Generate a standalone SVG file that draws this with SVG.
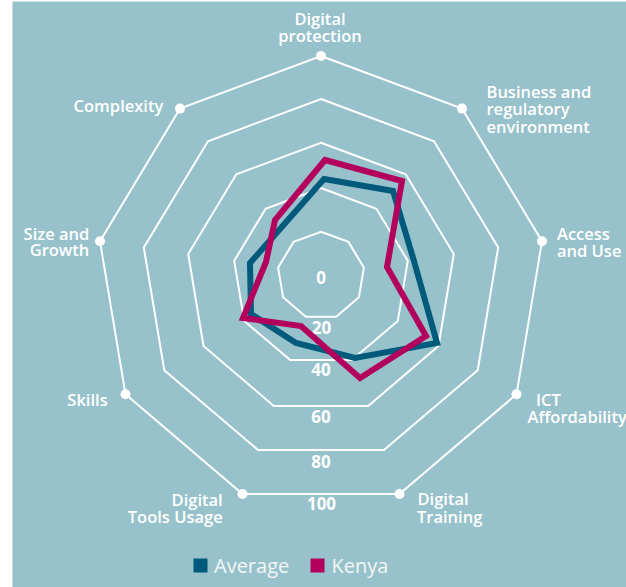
<svg xmlns="http://www.w3.org/2000/svg" width="626" height="587" viewBox="0 0 626 587">
<style>
.ring{fill:none;stroke:#ffffff;stroke-width:2;stroke-linejoin:miter}
.dot{fill:#ffffff}
.lbl{font-family:"Open Sans","Noto Sans",sans-serif;font-weight:600;font-size:16.5px;fill:#ffffff}
.num{font-family:"Open Sans","Noto Sans",sans-serif;font-weight:700;font-size:17px;fill:#ffffff;text-anchor:middle}
.leg{font-family:"Open Sans","Noto Sans",sans-serif;font-weight:400;font-size:20px;fill:#f2f6f7}
.data{fill:none;stroke-width:6;stroke-linejoin:miter;stroke-miterlimit:10}
</style>
<rect x="12.5" y="1.5" width="613.5" height="585.5" fill="#98c2cb"/>
<g id="grid">
<polygon class="ring" points="321,56 462,108.6 542,241.3 516.5,394.3 399.5,494 242.5,494 125.5,394.3 100,241.3 180,108.6"/>
<polygon class="ring" points="321,99 434,141.2 498.2,247.5 477.7,370.2 383.9,450.1 258.1,450.1 164.3,370.2 143.8,247.5 208,141.2"/>
<polygon class="ring" points="321,142.7 405.7,174.3 453.8,254.1 438.5,346 368.2,405.9 273.8,405.9 203.5,346 188.2,254.1 236.3,174.3"/>
<polygon class="ring" points="321,188 376.4,208.7 407.8,260.8 397.8,320.9 351.8,360.1 290.2,360.1 244.2,320.9 234.2,260.8 265.6,208.7"/>
<polygon class="ring" points="321,231.7 348.4,241.9 363.9,267.6 358.9,297.3 336.2,316.7 305.8,316.7 283.1,297.3 278.1,267.6 293.6,241.9"/>
</g>
<g id="scale">
<text class="num" x="321" y="284">0</text>
<text class="num" x="321.5" y="333.5">20</text>
<text class="num" x="321" y="376">40</text>
<text class="num" x="321" y="422.5">60</text>
<text class="num" x="321" y="467.5">80</text>
<text class="num" x="321.5" y="510">100</text>
</g>
<g id="series">
<polygon id="average" class="data" stroke="#005a7b" points="324,179 393,191 414,261 437,343 355,358 296,343 251,314 250,263 280,229"/>
<polygon id="kenya" class="data" stroke="#b3005c" points="325,160 402,181 387,267 426,336 360,378 301,326 243,318 266,262 275,220"/>
</g>
<g id="axis-digital-protection">
<circle class="dot" cx="321" cy="56" r="5"/>
<text class="lbl" x="320" y="25" text-anchor="middle">Digital</text>
<text class="lbl" x="320" y="42" text-anchor="middle">protection</text>
</g>
<g id="axis-business">
<circle class="dot" cx="462" cy="108.6" r="5"/>
<text class="lbl" x="486.5" y="97.5">Business and</text>
<text class="lbl" x="486.5" y="115">regulatory</text>
<text class="lbl" x="486.5" y="132.5">environment</text>
</g>
<g id="axis-access">
<circle class="dot" cx="542" cy="241.3" r="5"/>
<text class="lbl" x="557" y="240">Access</text>
<text class="lbl" x="557" y="256.7">and Use</text>
</g>
<g id="axis-ict">
<circle class="dot" cx="516.5" cy="394.3" r="5"/>
<text class="lbl" x="536" y="406">ICT</text>
<text class="lbl" x="527.5" y="422.7">Affordability</text>
</g>
<g id="axis-training">
<circle class="dot" cx="399.5" cy="494" r="5"/>
<text class="lbl" x="417.5" y="505">Digital</text>
<text class="lbl" x="417" y="522.7">Training</text>
</g>
<g id="axis-tools">
<circle class="dot" cx="242.5" cy="494" r="5"/>
<text class="lbl" x="222.7" y="506" text-anchor="end">Digital</text>
<text class="lbl" x="222.7" y="522.7" text-anchor="end">Tools Usage</text>
</g>
<g id="axis-skills">
<circle class="dot" cx="125.5" cy="394.3" r="5"/>
<text class="lbl" x="107.7" y="406" text-anchor="end">Skills</text>
</g>
<g id="axis-size">
<circle class="dot" cx="100" cy="241.3" r="5"/>
<text class="lbl" x="89.3" y="240" text-anchor="end">Size and</text>
<text class="lbl" x="89.3" y="256" text-anchor="end">Growth</text>
</g>
<g id="axis-complexity">
<circle class="dot" cx="180" cy="108.6" r="5"/>
<text class="lbl" x="163.3" y="112.3" text-anchor="end">Complexity</text>
</g>
<g id="legend">
<rect x="193.5" y="558.5" width="14" height="14" fill="#005a7b"/>
<text class="leg" x="214" y="572.5">Average</text>
<rect x="310.5" y="558.5" width="14" height="14" fill="#b3005c"/>
<text class="leg" x="331.5" y="572.5">Kenya</text>
</g>
</svg>
